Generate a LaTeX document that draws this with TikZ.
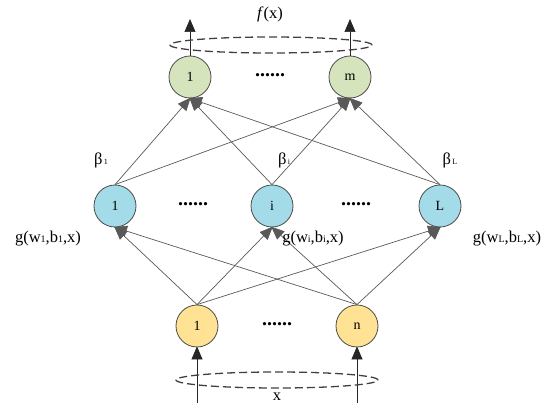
\documentclass[tikz,border=0pt]{standalone}
\usepackage{fontspec}
\setmainfont{Liberation Serif}
\usetikzlibrary{arrows.meta,positioning}
\definecolor{OutGreen}{RGB}{214,228,190}
\definecolor{HidBlue}{RGB}{164,219,232}
\definecolor{InYellow}{RGB}{255,226,148}
\tikzset{
	neuron/.style={circle, draw=black!70, line width=0.8pt, minimum size=42pt, inner sep=0pt, font=\fontsize{14}{16}\selectfont},
	link/.style={draw=black!65, line width=0.7pt, -{Triangle[length=13pt,width=11pt]}, shorten >=-1pt},
	ring/.style={black!75, line width=1.3pt, dash pattern=on 8pt off 4pt},
	lbl/.style={font=\fontsize{16.5}{18}\selectfont},
	dots/.style={font=\fontsize{20}{22}\selectfont\bfseries}
}

\begin{document}
\begin{tikzpicture}[x=1pt, y=-1pt]
		\useasboundingbox (0,0) rectangle (550,409);
		% output layer
		\node[neuron, fill=OutGreen] (o1) at (190,77) {1};
		\node[neuron, fill=OutGreen] (om) at (350,77) {m};
		% hidden layer
		\node[neuron, fill=HidBlue] (h1) at (115,206) {1};
		\node[neuron, fill=HidBlue] (hi) at (272,206) {i};
		\node[neuron, fill=HidBlue] (hL) at (440,206) {L};
		% input layer
		\node[neuron, fill=InYellow] (x1) at (197,326) {1};
		\node[neuron, fill=InYellow] (xn) at (357,326) {n};
		% dots
		\node[dots] (d1) at (270,75) {......};
		\node[dots] (d2) at (193,204) {......};
		\node[dots] (d3) at (356,204) {......};
		\node[dots] (d4) at (277,324) {......};
		% input -> hidden
		\foreach \s in {x1,xn}
			\foreach \t in {h1,hi,hL}
				\draw[link] (\s.north) -- (\t.south);
		% hidden -> output
		\foreach \s in {h1,hi,hL}
			\foreach \t in {o1,om}
				\draw[link] (\s.north) -- (\t.south);
		% output arrows and ring
		\coordinate (t1) at (190,20);
		\coordinate (tm) at (350,20);
		\draw[link, black!85] (o1.north) -- (t1);
		\draw[link, black!85] (om.north) -- (tm);
		\draw[ring] (271,45) ellipse (101pt and 8pt);
		\node[lbl] (fx) at (270,14) {\textit{f}(x)};
		% input arrows and ring
		\coordinate (b1) at (197,403);
		\coordinate (bn) at (357,403);
		\draw[link, black!85] (b1) -- (x1.south);
		\draw[link, black!85] (bn) -- (xn.south);
		\draw[ring] (277,380) ellipse (101pt and 8pt);
		\node[lbl] (xx) at (277,397) {x};
		% weights
		\node[lbl] (be1) at (101,160) {β{\fontsize{8}{9}\selectfont\,1}};
		\node[lbl] (bei) at (284,160) {β{\fontsize{8}{9}\selectfont\,i}};
		\node[lbl] (beL) at (450,160) {β{\fontsize{8}{9}\selectfont\,L}};
		% activation labels
		\node[lbl] (g1) at (48,239) {g(w{\fontsize{10}{11}\selectfont 1},b{\fontsize{10}{11}\selectfont 1},x)};
		\node[lbl] (gi) at (313,239) {g(w{\fontsize{10}{11}\selectfont i},b{\fontsize{10}{11}\selectfont i},x)};
		\node[lbl] (gL) at (507,239) {g(w{\fontsize{10}{11}\selectfont L},b{\fontsize{10}{11}\selectfont L},x)};
	\end{tikzpicture}
\end{document}
